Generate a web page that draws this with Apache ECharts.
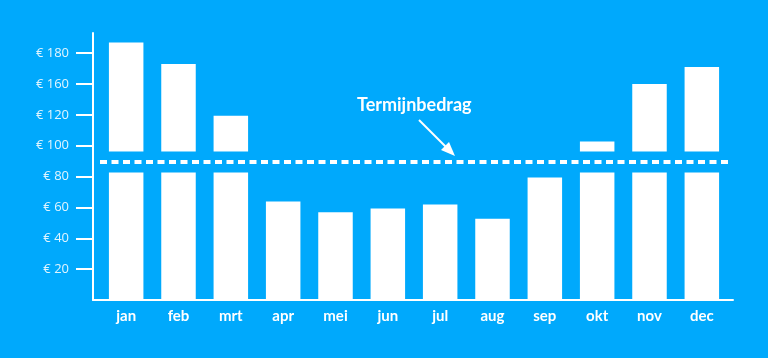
<!DOCTYPE html>
<html>
<head>
<meta charset="utf-8">
<script src="https://cdn.jsdelivr.net/npm/echarts@6/dist/echarts.min.js"></script>
<style>
html,body{margin:0;padding:0;background:#00a9fc;}
#c{width:768px;height:358px;}
</style>
</head>
<body>
<div id="c"></div>
<script>
const months = ['jan','feb','mrt','apr','mei','jun','jul','aug','sep','okt','nov','dec'];
const values = [166.9,152.9,119.4,63.8,56.8,59.3,61.9,52.6,79.4,102.7,139.9,151.0];
const tickValues = [20,40,60,80,100,120,140,160];
const tickLabels = ['€ 20','€ 40','€ 60','€ 80','€ 100','€ 120','€ 160','€ 180'];
const termijnbedrag = 89.4;
const gapLow = 82.6;
const gapHigh = 96.3;
const annotation = 'Termijnbedrag';

const BG = '#00a9fc';
const yMax = 173;

const chart = echarts.init(document.getElementById('c'), null, {renderer:'canvas'});
chart.setOption({
  backgroundColor: BG,
  animation: false,
  grid: [
    {left: 100, right: 40, top: 33, bottom: 58},
    {left: 93, right: 35, top: 33, bottom: 58}
  ],
  xAxis: [
    {
      type: 'category', gridIndex: 0, data: months,
      axisLine: {show: false}, axisTick: {show: false},
      axisLabel: {color: '#ffffff', fontSize: 15, fontWeight: 'bold', fontFamily: 'Lato', margin: 9}
    },
    {
      type: 'value', gridIndex: 1, min: 0, max: 1,
      axisLine: {show: true, lineStyle: {color: '#ffffff', width: 2}},
      axisTick: {show: false}, axisLabel: {show: false}, splitLine: {show: false}
    }
  ],
  yAxis: [
    {
      type: 'value', gridIndex: 0, min: 0, max: yMax,
      show: false, splitLine: {show: false}
    },
    {
      type: 'value', gridIndex: 1, min: 0, max: yMax,
      axisLine: {show: true, lineStyle: {color: '#ffffff', width: 2}},
      axisTick: {show: true, length: 17, lineStyle: {color: '#ffffff', width: 2}, customValues: tickValues},
      axisLabel: {
        color: 'rgba(255,255,255,0.88)', fontSize: 13, fontFamily: 'Open Sans', margin: 24,
        customValues: tickValues,
        formatter: function (v) {
          const i = tickValues.indexOf(Math.round(v));
          return i >= 0 ? tickLabels[i] : '';
        }
      },
      splitLine: {show: false}
    }
  ],
  series: [
    {
      type: 'bar', xAxisIndex: 0, yAxisIndex: 0, data: values,
      barWidth: 34.5, z: 2,
      itemStyle: {color: '#ffffff'}
    },
    {
      type: 'line', xAxisIndex: 0, yAxisIndex: 0, data: [], z: 5,
      markArea: {
        silent: true, z: 6,
        itemStyle: {color: BG, borderWidth: 0},
        data: [[{yAxis: gapLow}, {yAxis: gapHigh}]]
      },
      markLine: {
        silent: true, z: 7, symbol: 'none',
        label: {show: false},
        lineStyle: {color: '#ffffff', width: 4, type: [7, 4.5]},
        data: [{yAxis: termijnbedrag}]
      }
    }
  ],
  graphic: [
    {
      type: 'text', left: 357, top: 96, z: 20,
      style: {text: annotation, fill: '#ffffff', font: 'bold 18px Lato'}
    },
    {
      type: 'line', z: 20,
      shape: {x1: 419, y1: 120, x2: 450, y2: 151},
      style: {stroke: '#ffffff', lineWidth: 2}
    },
    {
      type: 'polygon', z: 20,
      shape: {points: [[455, 156], [441, 150], [449, 142]]},
      style: {fill: '#ffffff'}
    }
  ]
});
</script>
</body>
</html>
